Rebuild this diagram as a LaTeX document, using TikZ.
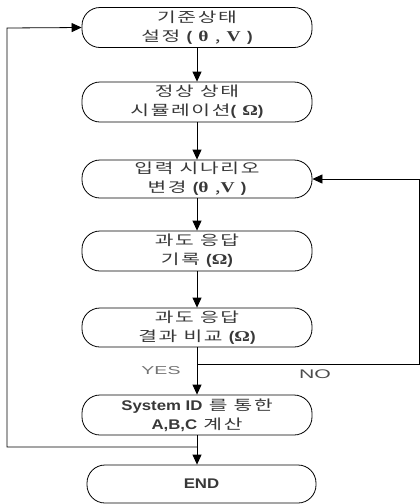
\documentclass[tikz,border=0pt]{standalone}
\usepackage{fontspec}
\setmainfont{Liberation Sans}
\newfontfamily\kr[FakeStretch=1.45,LetterSpace=12]{Noto Sans CJK KR}
\newfontfamily\ser[FakeStretch=1.3]{Liberation Serif}
\newfontfamily\ar[FakeStretch=1.2]{Liberation Sans}
\newfontfamily\arw[FakeStretch=1.7]{Liberation Sans}
\usetikzlibrary{arrows.meta}
\newcommand{\sym}[1]{{\ser\bfseries\fontsize{15}{18}\selectfont #1}}
\newcommand{\pa}[1]{{\ar\bfseries #1}}
\newcommand{\lt}[1]{{\ar\bfseries\fontsize{14}{18.5}\selectfont #1}}
\begin{document}
\begin{tikzpicture}[x=1pt,y=-1pt,
  box/.style={draw, rounded corners=18pt, minimum width=230pt, minimum height=40pt,
    align=center, inner sep=1pt, font=\kr\fontsize{14}{19}\selectfont, text=black!78, line width=0.8pt},
  arr/.style={-{Triangle[length=10pt,width=9pt]}, line width=0.8pt},
  lbl/.style={font=\arw\fontsize{11.5}{14}\selectfont, text=black!70}]
\useasboundingbox (0,0) rectangle (420,504);
\node[box] (b1) at (197,27.5) {기준상태\\설정 \pa{(} \sym{θ} , \sym{V} \pa{)}};
\node[box] (b2) at (197,102) {정상 상태\\시뮬레이션\pa{(} \sym{Ω}\pa{)}};
\node[box, minimum height=38pt] (b3) at (197,179) {입력 시나리오\\변경 \pa{(}\sym{θ} ,\sym{V} \pa{)}};
\node[box] (b4) at (197,251) {과도 응답\\기록 \pa{(}\sym{Ω}\pa{)}};
\node[box, minimum height=39pt] (b5) at (197,327.5) {과도 응답\\결과 비교 \pa{(}\sym{Ω}\pa{)}};
\node[box] (b6) at (197,415) {\lt{System ID} 를 통한\\\lt{A,B,C} 계산};
\node[box, minimum width=229pt, minimum height=38pt] (b7) at (201.5,484) {\lt{END}};
\draw[arr] (b1) -- (b2);
\draw[arr] (b2) -- (b3);
\draw[arr] (b3) -- (b4);
\draw[arr] (b4) -- (b5);
\draw[arr] (b5) -- (b6);
\draw[arr] (b6.south) -- (b6.south |- b7.north);
\coordinate (jR) at (197,364);
\coordinate (cR1) at (419.4,364);
\coordinate (cR2) at (419.4,179);
\draw[arr] (jR) -- (cR1) -- (cR2) -- (b3.east);
\coordinate (jL) at (197,447);
\coordinate (cL1) at (7,447);
\coordinate (cL2) at (7,28);
\draw[arr] (jL) -- (cL1) -- (cL2) -- (b1.west);
\node[lbl, text=black!55] (yes) at (161,371) {YES};
\node[lbl, font=\arw\fontsize{12.5}{15}\selectfont] (no) at (315,374) {NO};
\end{tikzpicture}
\end{document}
